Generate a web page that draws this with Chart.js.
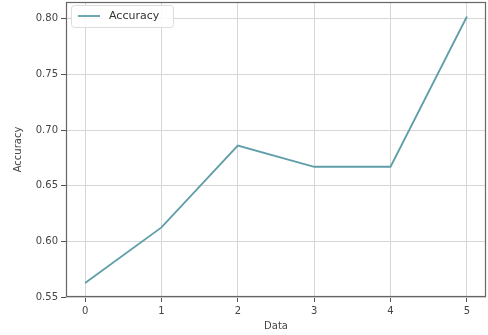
<!DOCTYPE html>
<html>
<head>
<meta charset="utf-8">
<script src="https://cdn.jsdelivr.net/npm/chart.js@4/dist/chart.umd.min.js"></script>
<style>
  html, body { margin: 0; padding: 0; background: #fff; }
  #wrap { width: 488px; height: 335px; position: relative; }
</style>
</head>
<body>
<div id="wrap"><canvas id="c" width="488" height="335"></canvas></div>
<script>
// Accuracy per data index
const steps = [0, 1, 2, 3, 4, 5];
const accuracy = [0.5625, 0.6125, 0.686, 0.667, 0.667, 0.802];
const xTicks = [0, 1, 2, 3, 4, 5];
const yTicks = [0.55, 0.60, 0.65, 0.70, 0.75, 0.80];
const seriesName = 'Accuracy';

const lineColor = '#5f9ea8';
const font = { family: 'DejaVu Sans', size: 10 };

// Full frame around the plot area plus an in-plot legend box
const framePlugin = {
  id: 'frame',
  afterDatasetsDraw(chart) {
    const { ctx, chartArea: a } = chart;
    ctx.save();
    ctx.strokeStyle = '#666';
    ctx.lineWidth = 1.2;
    ctx.strokeRect(a.left + 0.5, a.top + 0.5, a.right - a.left - 1, a.bottom - a.top - 1);

    // legend
    const lx = a.left + 5, ly = a.top + 3, lw = 102, lh = 22;
    ctx.fillStyle = 'rgba(255,255,255,0.85)';
    ctx.strokeStyle = '#dcdcdc';
    ctx.lineWidth = 1;
    ctx.beginPath();
    ctx.roundRect(lx + 0.5, ly + 0.5, lw, lh, 3);
    ctx.fill();
    ctx.stroke();
    ctx.strokeStyle = lineColor;
    ctx.lineWidth = 1.8;
    ctx.beginPath();
    ctx.moveTo(lx + 7, ly + 11);
    ctx.lineTo(lx + 29, ly + 11);
    ctx.stroke();
    ctx.fillStyle = '#333';
    ctx.font = '11px "DejaVu Sans"';
    ctx.textBaseline = 'middle';
    ctx.textAlign = 'left';
    ctx.fillText(seriesName, lx + 38, ly + 11);
    ctx.restore();
  }
};

new Chart(document.getElementById('c'), {
  type: 'line',
  data: {
    datasets: [{
      label: seriesName,
      data: steps.map((s, i) => ({ x: s, y: accuracy[i] })),
      borderColor: lineColor,
      borderWidth: 1.8,
      pointRadius: 0,
      tension: 0,
      fill: false
    }]
  },
  options: {
    responsive: false,
    animation: false,
    layout: { padding: { left: 0, right: 2, top: 2, bottom: 0 } },
    plugins: { legend: { display: false }, tooltip: { enabled: false } },
    scales: {
      x: {
        type: 'linear',
        min: -0.25,
        max: 5.25,
        afterBuildTicks(scale) { scale.ticks = xTicks.map(v => ({ value: v })); },
        afterFit(scale) { scale.height = 38; scale.paddingLeft = 0; scale.paddingRight = 0; },
        border: { display: false },
        grid: { color: '#d6d6d6', tickColor: '#555', tickLength: 5, lineWidth: 1 },
        ticks: { color: '#444', font, padding: 3, maxRotation: 0, callback: v => String(v) },
        title: { display: true, text: 'Data', color: '#444', font, padding: { top: 0, bottom: 3 } }
      },
      y: {
        type: 'linear',
        min: 0.55,
        max: 0.815,
        afterBuildTicks(scale) { scale.ticks = yTicks.map(v => ({ value: v })); },
        afterFit(scale) { scale.width = 66; scale.paddingTop = 0; scale.paddingBottom = 0; },
        border: { display: false },
        grid: { color: '#d6d6d6', tickColor: '#555', tickLength: 5, lineWidth: 1 },
        ticks: { color: '#444', font, padding: 3, callback: v => Number(v).toFixed(2) },
        title: { display: true, text: 'Accuracy', color: '#444', font, padding: { top: 12, bottom: 4 } }
      }
    }
  },
  plugins: [framePlugin]
});
</script>
</body>
</html>
